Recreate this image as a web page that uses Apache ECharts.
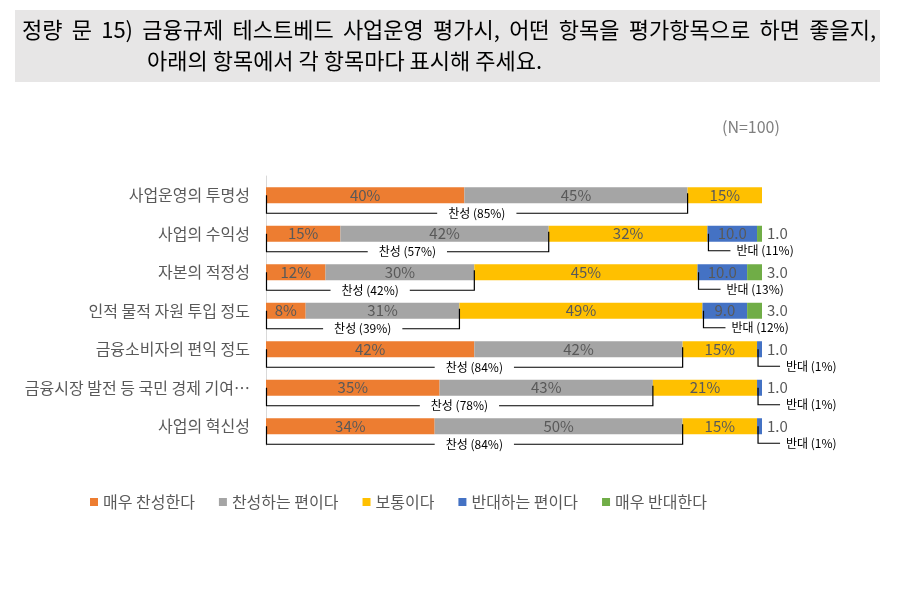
<!DOCTYPE html>
<html>
<head>
<meta charset="utf-8">
<script src="https://cdn.jsdelivr.net/npm/echarts@6/dist/echarts.min.js"></script>
<style>
html,body{margin:0;padding:0;background:#fff;}
#chart{width:908px;height:592px;}
</style>
</head>
<body>
<div id="chart"></div>
<script>
// ---- data ----
const categories = ['사업운영의 투명성','사업의 수익성','자본의 적정성','인적 물적 자원 투입 정도','금융소비자의 편익 정도','금융시장 발전 등 국민 경제 기여…','사업의 혁신성'];
const seriesNames = ['매우 찬성한다','찬성하는 편이다','보통이다','반대하는 편이다','매우 반대한다'];
const strongAgree    = [40, 15, 12, 8, 42, 35, 34];
const agree          = [45, 42, 30, 31, 42, 43, 50];
const neutral        = [15, 32, 45, 49, 15, 21, 15];
const disagree       = [0, 10, 10, 9, 1, 1, 1];
const strongDisagree = [0, 1, 3, 3, 0, 0, 0];
const titleLine1 = ['정량','문','15)','금융규제','테스트베드','사업운영','평가시,','어떤','항목을','평가항목으로','하면','좋을지,'];
const titleLine2 = '아래의 항목에서 각 항목마다 표시해 주세요.';
const sampleNote = '(N=100)';

const colors = ['#ED7D31','#A5A5A5','#FFC000','#4472C4','#70AD47'];
const FONT = '"Noto Sans CJK KR", "Noto Sans", sans-serif';

const chart = echarts.init(document.getElementById('chart'));

function makeData(arr) {
  return arr.map(v => {
    if (!v) return { value: v, label: { show: false } };
    const pos = v < 5 ? 'right' : 'inside';
    return { value: v, label: { show: true, position: pos } };
  });
}
const allSeries = [strongAgree, agree, neutral, disagree, strongDisagree];
const barSeries = allSeries.map((arr, k) => ({
  name: seriesNames[k],
  type: 'bar',
  stack: 'total',
  barWidth: 16,
  itemStyle: { color: colors[k] },
  label: {
    show: true,
    color: '#595959',
    fontSize: 15,
    fontFamily: FONT,
    distance: 5,
    formatter: p => k < 3 ? p.value + '%' : Number(p.value).toFixed(1)
  },
  emphasis: { disabled: true },
  data: makeData(arr)
}));

const bracketData = categories.map((c, i) => [
  i,
  strongAgree[i] + agree[i],
  strongAgree[i] + agree[i] + neutral[i],
  strongAgree[i] + agree[i],
  disagree[i] + strongDisagree[i]
]);

const bracketSeries = {
  type: 'custom',
  silent: true,
  z: 5,
  encode: { x: 1, y: 0 },
  data: bracketData,
  renderItem: function (params, api) {
    const i = api.value(0);
    const aEnd = api.value(1), oStart = api.value(2), a = api.value(3), o = api.value(4);
    const p0 = api.coord([0, i]);
    const p1 = api.coord([aEnd, i]);
    const p2 = api.coord([oStart, i]);
    const c = p0[1];
    const yb = c + 18;
    const children = [
      { type: 'polyline', shape: { points: [[p0[0] + 0.5, c], [p0[0] + 0.5, yb], [p1[0], yb], [p1[0], c - 2]] },
        style: { stroke: '#000', lineWidth: 1.2, fill: null } },
      { type: 'text', style: { text: '찬성 (' + a + '%)', x: (p0[0] + p1[0]) / 2, y: yb, align: 'center', verticalAlign: 'middle',
        fill: '#000', font: '12px ' + FONT, backgroundColor: '#fff', padding: [1, 11] } }
    ];
    if (o > 0) {
      const yo = c + 17;
      children.push(
        { type: 'polyline', shape: { points: [[p2[0] + 1, c], [p2[0] + 1, yo], [p2[0] + 23, yo]] },
          style: { stroke: '#000', lineWidth: 1.2, fill: null } },
        { type: 'text', style: { text: '반대 (' + o + '%)', x: p2[0] + 29, y: yo, align: 'left', verticalAlign: 'middle',
          fill: '#000', font: '12px ' + FONT } }
      );
    }
    return { type: 'group', children: children };
  }
};

// justified title line 1
const TITLE_FONT_SIZE = 22;
const ctx = document.createElement('canvas').getContext('2d');
ctx.font = TITLE_FONT_SIZE + 'px ' + FONT;
const lineLeft = 22, lineRight = 876;
const widths = titleLine1.map(w => ctx.measureText(w).width);
const totalW = widths.reduce((s, w) => s + w, 0);
const gap = (lineRight - lineLeft - totalW) / (titleLine1.length - 1);
let cx = lineLeft;
const titleTexts = titleLine1.map((w, j) => {
  const el = { type: 'text', left: cx, top: 19, style: { text: w, fill: '#000', font: TITLE_FONT_SIZE + 'px ' + FONT } };
  cx += widths[j] + gap;
  return el;
});

chart.setOption({
  animation: false,
  backgroundColor: '#fff',
  grid: { left: 266, top: 176, width: 496, height: 269.5 },
  xAxis: { type: 'value', min: 0, max: 100, show: false },
  yAxis: {
    type: 'category',
    inverse: true,
    data: categories,
    axisLine: { show: true, lineStyle: { color: '#d9d9d9', width: 1 } },
    axisTick: { show: false },
    axisLabel: { color: '#595959', fontSize: 16, fontFamily: FONT, margin: 16 },
    splitLine: { show: false }
  },
  legend: {
    data: seriesNames,
    left: 85,
    top: 489,
    icon: 'rect',
    itemWidth: 8,
    itemHeight: 8,
    itemGap: 24,
    textStyle: { color: '#595959', fontSize: 16, fontFamily: FONT },
    selectedMode: false
  },
  graphic: [
    { type: 'rect', shape: { x: 15, y: 10, width: 865, height: 72 }, style: { fill: '#e7e6e6' }, z: -1 },
    ...titleTexts,
    { type: 'text', left: 147, top: 50, style: { text: titleLine2, fill: '#000', font: TITLE_FONT_SIZE + 'px ' + FONT } },
    { type: 'text', left: 722, top: 119, style: { text: sampleNote, fill: '#7f7f7f', font: '16px ' + FONT } }
  ],
  series: [...barSeries, bracketSeries]
});
</script>
</body>
</html>
